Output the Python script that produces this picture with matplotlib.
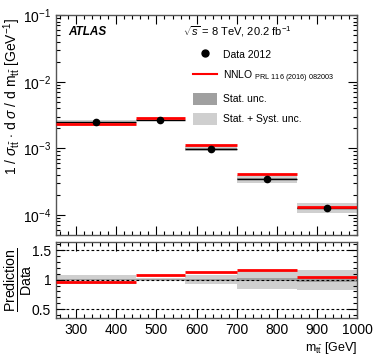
import matplotlib
matplotlib.use("Agg")
import matplotlib.pyplot as plt
import numpy as np
from matplotlib.lines import Line2D
from matplotlib.patches import Patch
from matplotlib.ticker import MultipleLocator, LogLocator, NullFormatter

plt.rcParams['font.family'] = ['Liberation Sans', 'DejaVu Sans']
plt.rcParams['mathtext.fontset'] = 'custom'
plt.rcParams['mathtext.rm'] = 'Liberation Sans'
plt.rcParams['mathtext.it'] = 'Liberation Sans:italic'
plt.rcParams['mathtext.bf'] = 'Liberation Sans:bold'

# ---- data ----
bin_edges = [250, 450, 570, 700, 850, 1000]
data_vals = [2.45e-3, 2.66e-3, 0.99e-3, 3.50e-4, 1.29e-4]
nnlo_vals = [2.35e-3, 2.88e-3, 1.12e-3, 4.06e-4, 1.34e-4]
stat_rel = [0.012, 0.012, 0.015, 0.025, 0.035]
total_rel = [0.072, 0.03, 0.08, 0.15, 0.17]
xticks = [300, 400, 500, 600, 700, 800, 900, 1000]
ratio_ticks = [0.5, 1.0, 1.5]

edges = np.array(bin_edges, float)
lo, hi = edges[:-1], edges[1:]
width = hi - lo
centers = 0.5 * (lo + hi)
data = np.array(data_vals)
nnlo = np.array(nnlo_vals)
stat = np.array(stat_rel)
tot = np.array(total_rel)
ratio = nnlo / data

DARK = '#a0a0a0'
LIGHT = '#cfcfcf'
RED = '#ff0000'
SPINE = '#555555'

fig = plt.figure(figsize=(3.74, 3.60), dpi=100)
ax = fig.add_axes([0.150, 0.347, 0.805, 0.611])
axr = fig.add_axes([0.150, 0.117, 0.805, 0.212])

def style(a):
    a.tick_params(which='both', direction='in', top=True, right=True, labelsize=10, colors='black')
    a.tick_params(which='major', length=6.5, width=0.8)
    a.tick_params(which='minor', length=3.2, width=0.8)
    for s in a.spines.values():
        s.set_color(SPINE)
        s.set_linewidth(1.0)

# ---- top panel ----
ax.bar(lo, 2 * tot * data, bottom=data * (1 - tot), width=width, align='edge', color=LIGHT, lw=0, zorder=1)
ax.bar(lo, 2 * stat * data, bottom=data * (1 - stat), width=width, align='edge', color=DARK, lw=0, zorder=2)
ax.hlines(data, lo, hi, color='black', lw=1.0, zorder=3)
ax.hlines(nnlo, lo, hi, color=RED, lw=2.0, zorder=4)
ax.plot(centers, data, 'o', color='black', ms=4.5, zorder=5)
ax.set_yscale('log')
ax.set_xlim(edges[0], edges[-1])
ax.set_ylim(5e-5, 1e-1)
ax.xaxis.set_major_locator(MultipleLocator(100))
ax.xaxis.set_minor_locator(MultipleLocator(20))
ax.yaxis.set_minor_locator(LogLocator(base=10, subs=np.arange(2, 10)))
ax.yaxis.set_minor_formatter(NullFormatter())
ax.tick_params(axis='x', labelbottom=False)
style(ax)
ax.set_ylabel(r'1 / $\sigma_{\mathrm{t\bar{t}}}$ $\cdot$ d $\sigma$ / d m$_{\mathrm{t\bar{t}}}$ [GeV$^{-1}$]',
              fontsize=10, va='center')
ax.yaxis.set_label_coords(-0.145, 0.63)

ax.text(0.04, 0.925, 'ATLAS', transform=ax.transAxes, fontsize=8.5,
        fontweight='bold', fontstyle='italic', va='center', ha='left')
ax.text(0.42, 0.925, r'$\sqrt{s}$ = 8 TeV, 20.2 fb$^{-1}$', transform=ax.transAxes,
        fontsize=8, va='center', ha='left')

handles = [Line2D([], [], marker='o', color='black', ls='none', ms=5),
           Line2D([], [], color=RED, lw=1.5),
           Patch(facecolor=DARK, edgecolor='none'),
           Patch(facecolor=LIGHT, edgecolor='none')]
labels = ['Data 2012', r'NNLO $_{\mathrm{PRL\ 116\ (2016)\ 082003}}$', 'Stat. unc.', 'Stat. + Syst. unc.']
leg = ax.legend(handles, labels, loc='upper left', bbox_to_anchor=(0.455, 0.85), frameon=False,
                fontsize=7.5, handlelength=2.3, handleheight=1.4, labelspacing=0.78,
                handletextpad=0.55, borderpad=0.0, borderaxespad=0.0)

# ---- ratio panel ----
axr.bar(lo, 2 * tot, bottom=1 - tot, width=width, align='edge', color=LIGHT, lw=0, zorder=1)
axr.bar(lo, 2 * stat, bottom=1 - stat, width=width, align='edge', color=DARK, lw=0, zorder=2)
for yv in ratio_ticks:
    axr.axhline(yv, color='black', ls=(0, (2.5, 2)), lw=0.8, zorder=3)
axr.hlines(ratio, lo, hi, color=RED, lw=2.0, zorder=4)
axr.set_xlim(edges[0], edges[-1])
axr.set_ylim(0.35, 1.65)
axr.set_xticks(xticks)
axr.xaxis.set_minor_locator(MultipleLocator(20))
axr.set_yticks(ratio_ticks)
axr.set_yticklabels(['0.5', '1', '1.5'])
axr.yaxis.set_minor_locator(MultipleLocator(0.1))
style(axr)
axr.set_ylabel(r'$\frac{\mathrm{Prediction}}{\mathrm{Data}}$', fontsize=14.5, va='center')
axr.yaxis.set_label_coords(-0.125, 0.5)
axr.set_xlabel(r'm$_{\mathrm{t\bar{t}}}$ [GeV]', fontsize=9, loc='right', labelpad=2)

fig.savefig('out.png', dpi=100)
